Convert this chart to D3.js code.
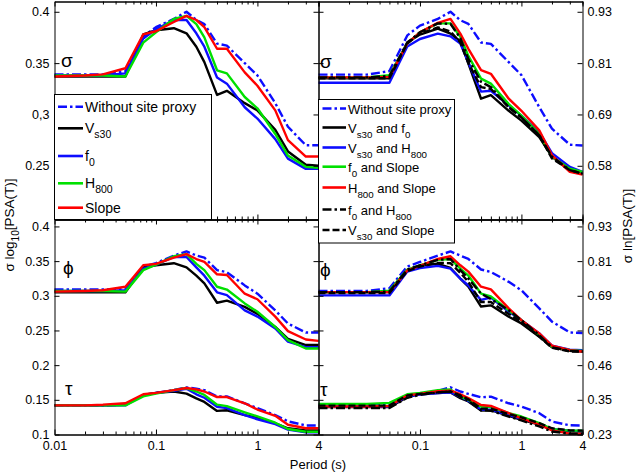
<!DOCTYPE html>
<html><head><meta charset="utf-8">
<script src="https://cdn.jsdelivr.net/npm/d3@7"></script>
<style>body{margin:0;background:#fff} svg{display:block} text{font-family:"Liberation Sans",Arial,sans-serif;fill:#000}</style>
</head><body><svg id="c" width="638" height="475"></svg>
<script>
// ---------- DATA ----------
const periods = [0.01,0.02,0.03,0.05,0.075,0.1,0.15,0.2,0.25,0.3,0.4,0.5,0.75,1,1.5,2,3,4];

// Left panels: sigma log10[PSA(T)]
const sigmaL_without = [0.339,0.339,0.339,0.342,0.376,0.385,0.393,0.400,0.392,0.388,0.369,0.367,0.350,0.338,0.311,0.288,0.270,0.270];
const sigmaL_vs30    = [0.337,0.337,0.337,0.337,0.378,0.382,0.384,0.379,0.366,0.351,0.319,0.323,0.311,0.304,0.285,0.264,0.251,0.250];
const sigmaL_f0      = [0.338,0.338,0.338,0.340,0.374,0.383,0.392,0.392,0.379,0.366,0.336,0.330,0.307,0.296,0.276,0.257,0.247,0.247];
const sigmaL_h800    = [0.338,0.338,0.338,0.337,0.370,0.380,0.393,0.396,0.388,0.375,0.343,0.340,0.317,0.306,0.281,0.260,0.249,0.248];
const sigmaL_slope   = [0.337,0.338,0.339,0.345,0.378,0.381,0.390,0.396,0.392,0.385,0.364,0.364,0.341,0.328,0.304,0.275,0.259,0.259];

const phiL_without = [0.309,0.309,0.309,0.310,0.342,0.347,0.358,0.364,0.358,0.355,0.337,0.334,0.315,0.303,0.279,0.260,0.247,0.247];
const phiL_vs30    = [0.305,0.305,0.305,0.305,0.341,0.344,0.347,0.341,0.329,0.318,0.290,0.293,0.284,0.274,0.255,0.238,0.229,0.229];
const phiL_f0      = [0.307,0.307,0.307,0.308,0.339,0.345,0.356,0.356,0.341,0.329,0.305,0.301,0.279,0.270,0.253,0.234,0.226,0.226];
const phiL_h800    = [0.307,0.307,0.307,0.306,0.337,0.345,0.357,0.360,0.346,0.337,0.313,0.309,0.289,0.277,0.255,0.236,0.224,0.224];
const phiL_slope   = [0.306,0.307,0.308,0.313,0.344,0.346,0.355,0.360,0.353,0.349,0.331,0.330,0.303,0.295,0.270,0.249,0.237,0.235];

const tauL_without = [0.142,0.142,0.142,0.143,0.157,0.160,0.164,0.168,0.166,0.164,0.155,0.155,0.145,0.138,0.128,0.119,0.113,0.113];
const tauL_vs30    = [0.142,0.142,0.142,0.143,0.157,0.160,0.162,0.159,0.152,0.147,0.134,0.135,0.128,0.124,0.116,0.109,0.106,0.106];
const tauL_f0      = [0.142,0.142,0.142,0.142,0.157,0.160,0.163,0.166,0.158,0.153,0.140,0.138,0.128,0.122,0.115,0.107,0.103,0.103];
const tauL_h800    = [0.142,0.142,0.142,0.142,0.155,0.159,0.164,0.167,0.162,0.157,0.143,0.141,0.132,0.126,0.117,0.108,0.104,0.104];
const tauL_slope   = [0.142,0.142,0.143,0.145,0.158,0.160,0.164,0.167,0.165,0.162,0.154,0.154,0.145,0.136,0.127,0.114,0.109,0.109];

// Right panels: sigma ln[PSA(T)]
const sigmaR_without   = [0.780,0.780,0.780,0.788,0.868,0.890,0.905,0.921,0.902,0.894,0.852,0.849,0.808,0.779,0.707,0.659,0.623,0.621];
const sigmaR_vs30f0    = [0.772,0.772,0.772,0.772,0.852,0.870,0.883,0.872,0.855,0.805,0.726,0.734,0.699,0.677,0.640,0.596,0.566,0.557];
const sigmaR_vs30h800  = [0.762,0.762,0.762,0.762,0.843,0.860,0.872,0.866,0.850,0.808,0.742,0.744,0.711,0.688,0.651,0.604,0.573,0.562];
const sigmaR_f0slope   = [0.774,0.774,0.774,0.779,0.850,0.875,0.895,0.895,0.865,0.822,0.771,0.760,0.714,0.688,0.647,0.596,0.569,0.562];
const sigmaR_h800slope = [0.774,0.774,0.774,0.775,0.850,0.875,0.896,0.905,0.872,0.838,0.790,0.782,0.726,0.699,0.655,0.599,0.562,0.556];
const sigmaR_f0h800    = [0.774,0.774,0.774,0.777,0.852,0.875,0.895,0.894,0.862,0.815,0.764,0.752,0.707,0.684,0.644,0.596,0.566,0.558];
const sigmaR_vs30slope = [0.772,0.772,0.772,0.772,0.850,0.872,0.886,0.877,0.852,0.806,0.752,0.748,0.707,0.684,0.644,0.592,0.566,0.558];

const phiR_without   = [0.707,0.707,0.707,0.716,0.788,0.803,0.824,0.838,0.824,0.813,0.778,0.770,0.737,0.709,0.649,0.605,0.569,0.567];
const phiR_vs30f0    = [0.703,0.703,0.703,0.703,0.773,0.792,0.797,0.783,0.748,0.721,0.655,0.659,0.621,0.599,0.555,0.520,0.508,0.506];
const phiR_vs30h800  = [0.692,0.692,0.692,0.692,0.771,0.783,0.790,0.781,0.748,0.725,0.677,0.685,0.638,0.610,0.566,0.525,0.512,0.510];
const phiR_f0slope   = [0.703,0.703,0.703,0.708,0.778,0.792,0.810,0.813,0.781,0.758,0.698,0.689,0.643,0.610,0.560,0.522,0.510,0.508];
const phiR_h800slope = [0.703,0.703,0.703,0.703,0.775,0.790,0.813,0.822,0.792,0.771,0.721,0.712,0.649,0.610,0.566,0.525,0.510,0.506];
const phiR_f0h800    = [0.703,0.703,0.703,0.705,0.778,0.792,0.810,0.813,0.776,0.748,0.698,0.680,0.643,0.610,0.560,0.520,0.508,0.506];
const phiR_vs30slope = [0.700,0.700,0.700,0.700,0.773,0.788,0.800,0.799,0.767,0.737,0.670,0.670,0.630,0.604,0.555,0.518,0.506,0.505];

const tauR_without   = [0.329,0.329,0.329,0.331,0.361,0.365,0.375,0.387,0.373,0.365,0.354,0.356,0.334,0.323,0.301,0.273,0.261,0.260];
const tauR_vs30f0    = [0.321,0.321,0.321,0.321,0.354,0.365,0.368,0.370,0.351,0.340,0.310,0.311,0.292,0.279,0.263,0.246,0.241,0.240];
const tauR_vs30h800  = [0.323,0.323,0.323,0.323,0.357,0.363,0.368,0.370,0.356,0.342,0.313,0.313,0.295,0.282,0.266,0.248,0.243,0.242];
const tauR_f0slope   = [0.332,0.332,0.332,0.335,0.364,0.368,0.377,0.380,0.357,0.345,0.323,0.321,0.301,0.290,0.268,0.248,0.243,0.243];
const tauR_h800slope = [0.323,0.323,0.323,0.325,0.360,0.365,0.374,0.376,0.364,0.351,0.328,0.325,0.301,0.284,0.263,0.244,0.233,0.232];
const tauR_f0h800    = [0.318,0.318,0.318,0.318,0.352,0.362,0.370,0.373,0.356,0.342,0.311,0.309,0.290,0.277,0.257,0.240,0.233,0.233];
const tauR_vs30slope = [0.326,0.326,0.326,0.326,0.360,0.365,0.370,0.373,0.360,0.347,0.316,0.316,0.298,0.287,0.268,0.251,0.244,0.243];

// Ticks / labels
const xMajorTicks = [0.01,0.1,1,4];
const xLabelsLeft = ["0.01","0.1","1","4"];
const xLabelsRight = ["","0.1","1","4"];
const yTicksTop = [0.25,0.3,0.35,0.4];
const yLabelsTopLeft = ["0.25","0,3","0.35","0.4"];
const yLabelsTopRight = ["0.58","0.69","0.81","0.93"];
const yTicksBottom = [0.1,0.15,0.2,0.25,0.3,0.35,0.4];
const yLabelsBottomLeft = ["0.1","0.15","0.2","0.25","0.3","0.35","0.4"];
const yLabelsBottomRight = ["0.23","0.35","0.46","0.58","0.69","0.81","0.93"];

const legendLeftNames = ["Without site proxy","V_{s30}","f_{0}","H_{800}","Slope"];
const legendRightNames = ["Without site proxy","V_{s30} and f_{0}","V_{s30} and H_{800}","f_{0} and Slope","H_{800} and Slope","f_{0} and H_{800}","V_{s30} and Slope"];

// ---------- STYLES ----------
const BLUE="#0d0dff", GREEN="#00e000", RED="#ff0000", BLACK="#000";
const DASHDOT="9,3,2.5,3", DASH="7,3";
const leftStyles = [
  {c:BLUE,d:DASHDOT},{c:BLACK,d:null},{c:BLUE,d:null},{c:GREEN,d:null},{c:RED,d:null}];
const rightStyles = [
  {c:BLUE,d:DASHDOT},{c:BLACK,d:null},{c:BLUE,d:null},{c:GREEN,d:null},{c:RED,d:null},{c:BLACK,d:DASHDOT},{c:BLACK,d:DASH}];

const LN10 = Math.LN10;
const svg = d3.select("#c");

const xL = d3.scaleLog().domain([0.01,4]).range([54.5,318.5]);
const xR = d3.scaleLog().domain([0.01,4]).range([318.5,582.5]);
const yLT = d3.scaleLinear().domain([0.1977,0.41]).range([219.5,1.5]);
const yLB = d3.scaleLinear().domain([0.1,0.41]).range([434.5,219.5]);
const yRT = d3.scaleLinear().domain([0.1977*LN10,0.41*LN10]).range([219.5,1.5]);
const yRB = d3.scaleLinear().domain([0.1*LN10,0.41*LN10]).range([434.5,219.5]);

const minorTicks = [];
[0.01,0.1,1].forEach(d=>{for(let k=2;k<=9;k++){const v=d*k; if(v<=4.0001) minorTicks.push(v);}});

function drawSeries(g, x, y, seriesList, styles){
  const line = d3.line().x((d,i)=>x(periods[i])).y(d=>y(d));
  seriesList.forEach((s,i)=>{
    g.append("path").attr("d",line(s)).attr("fill","none")
      .attr("stroke",styles[i].c).attr("stroke-width",2.4)
      .attr("stroke-linejoin","round")
      .attr("stroke-dasharray",styles[i].d);
  });
}

function drawFrame(x, y, yTicks, opts){
  const [x0,x1] = x.range(); const [y0,y1] = y.range();
  svg.append("g").attr("transform",`translate(0,${y0})`)
    .call(d3.axisBottom(x).tickValues(xMajorTicks).tickSizeInner(-5).tickSizeOuter(0).tickPadding(7)
    .tickFormat((d,i)=>opts.xLabels ? opts.xLabels[i] : ""));
  svg.append("g").attr("transform",`translate(0,${y0})`)
    .call(d3.axisBottom(x).tickValues(minorTicks).tickSizeInner(-3).tickSizeOuter(0).tickFormat(""));
  svg.append("g").attr("transform",`translate(0,${y1})`)
    .call(d3.axisTop(x).tickValues(xMajorTicks).tickSizeInner(-5).tickSizeOuter(0).tickFormat(""));
  svg.append("g").attr("transform",`translate(0,${y1})`)
    .call(d3.axisTop(x).tickValues(minorTicks).tickSizeInner(-3).tickSizeOuter(0).tickFormat(""));
  svg.append("g").attr("transform",`translate(${x0},0)`)
    .call(d3.axisLeft(y).tickValues(yTicks).tickSizeInner(-5).tickSizeOuter(0).tickPadding(5)
      .tickFormat((d,i)=>opts.yLeft ? opts.yLeft[i] : ""));
  svg.append("g").attr("transform",`translate(${x1},0)`)
    .call(d3.axisRight(y).tickValues(yTicks).tickSizeInner(-5).tickSizeOuter(0).tickPadding(5)
      .tickFormat((d,i)=>opts.yRight ? opts.yRight[i] : ""));
}

drawSeries(svg.append("g"), xL, yLT, [sigmaL_without,sigmaL_vs30,sigmaL_f0,sigmaL_h800,sigmaL_slope], leftStyles);
drawSeries(svg.append("g"), xL, yLB, [phiL_without,phiL_vs30,phiL_f0,phiL_h800,phiL_slope], leftStyles);
drawSeries(svg.append("g"), xL, yLB, [tauL_without,tauL_vs30,tauL_f0,tauL_h800,tauL_slope], leftStyles);
drawSeries(svg.append("g"), xR, yRT, [sigmaR_without,sigmaR_vs30f0,sigmaR_vs30h800,sigmaR_f0slope,sigmaR_h800slope,sigmaR_f0h800,sigmaR_vs30slope], rightStyles);
drawSeries(svg.append("g"), xR, yRB, [phiR_without,phiR_vs30f0,phiR_vs30h800,phiR_f0slope,phiR_h800slope,phiR_f0h800,phiR_vs30slope], rightStyles);
drawSeries(svg.append("g"), xR, yRB, [tauR_without,tauR_vs30f0,tauR_vs30h800,tauR_f0slope,tauR_h800slope,tauR_f0h800,tauR_vs30slope], rightStyles);

drawFrame(xL, yLT, yTicksTop, {yLeft:yLabelsTopLeft});
drawFrame(xL, yLB, yTicksBottom, {yLeft:yLabelsBottomLeft, xLabels:xLabelsLeft});
drawFrame(xR, yRT, yTicksTop.map(v=>v*LN10), {yRight:yLabelsTopRight});
drawFrame(xR, yRB, yTicksBottom.map(v=>v*LN10), {yRight:yLabelsBottomRight, xLabels:xLabelsRight});

svg.selectAll(".tick text").attr("font-size",12.5).attr("font-family","Liberation Sans, Arial, sans-serif").attr("fill","#000");
svg.selectAll(".domain").attr("stroke","#000");
svg.selectAll(".tick line").attr("stroke","#000");

const greek = [["σ",61,67],["σ",320,68],["ϕ",63,274],["τ",65,395],["ϕ",320,276],["τ",320,396]];
greek.forEach(g=>svg.append("text").attr("x",g[1]).attr("y",g[2]).text(g[0])
  .attr("font-family","Liberation Serif, serif").attr("font-size",19));

// rich text helper: "_{..}" marks subscript
function richText(sel, str, size){
  const parts = str.split(/_\{([^}]*)\}/);
  let pendingDy = 0;
  parts.forEach((p,i)=>{
    if(i%2===1){
      sel.append("tspan").attr("dy",5+pendingDy).attr("font-size",size*0.75).text(p);
      pendingDy = -5;
    } else if(p!==""){
      const t = sel.append("tspan").text(p);
      if(pendingDy) t.attr("dy",pendingDy);
      pendingDy = 0;
    }
  });
}

function legend(x,y,w,h,rows,names,styles,lx1,lx2,tx,fs){
  svg.append("rect").attr("x",x).attr("y",y).attr("width",w).attr("height",h)
    .attr("fill","#fff").attr("stroke","#000").attr("stroke-width",1);
  names.forEach((n,i)=>{
    svg.append("line").attr("x1",lx1).attr("x2",lx2).attr("y1",rows[i]).attr("y2",rows[i])
      .attr("stroke",styles[i].c).attr("stroke-width",2.6).attr("stroke-dasharray",styles[i].d);
    const t = svg.append("text").attr("x",tx).attr("y",rows[i]+5).attr("font-size",fs);
    richText(t,n,fs);
  });
}
legend(54.5,94.5,157,125,[106.7,128.3,156,183.3,207.7],legendLeftNames,leftStyles,58,83,85,14);
legend(318.5,99.5,136,143.5,[108.5,127.5,147.5,166.7,187.5,209.5,230],legendRightNames,rightStyles,322.5,346,348,13);

const lt = svg.append("text").attr("transform","translate(14,225) rotate(-90)").attr("text-anchor","middle").attr("font-size",13.5);
richText(lt,"σ log_{10}[PSA(T)]",13.5);
svg.append("text").attr("transform","translate(632,226) rotate(-90)").attr("text-anchor","middle").attr("font-size",13.5).text("σ ln[PSA(T)]");
svg.append("text").attr("x",318).attr("y",469).attr("text-anchor","middle").attr("font-size",13).text("Period (s)");
</script></body></html>
